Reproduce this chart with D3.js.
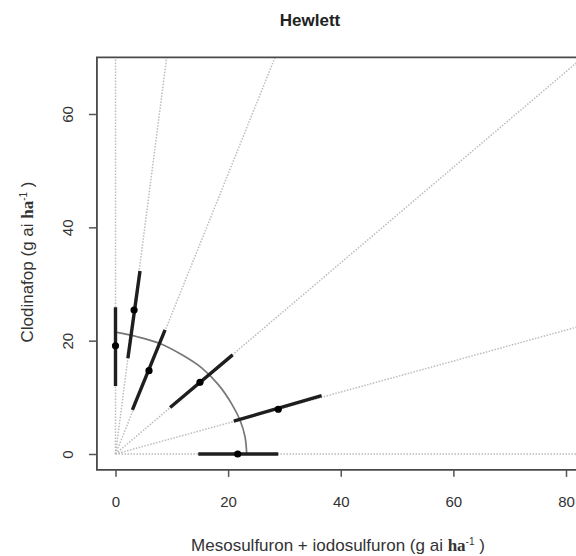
<!DOCTYPE html>
<html>
<head>
<meta charset="utf-8">
<script src="https://cdn.jsdelivr.net/npm/d3@7"></script>
<style>
  html, body { margin: 0; padding: 0; background: #fff; }
  svg { display: block; }
</style>
</head>
<body>
<svg id="chart" width="576" height="556"></svg>
<script>
// ---- data ----
const title = "Hewlett";
// estimated doses along each mixture ray (x = mesosulfuron + iodosulfuron, y = clodinafop)
const mesoEst = [0, 3.3, 5.95, 15.0, 28.9, 21.7];
const clodEst = [19.1, 25.4, 14.7, 12.65, 7.9, 0];
// lower / upper ends of the confidence bars along each ray
const mesoLo = [0, 2.2, 3.0, 9.7, 21.0, 14.7];
const clodLo = [12.0, 16.9, 7.8, 8.2, 5.8, 0];
const mesoHi = [0, 4.35, 8.8, 20.8, 36.6, 28.9];
const clodHi = [25.9, 32.3, 21.9, 17.5, 10.3, 0];
// fitted isobole
const arcMeso = [0, 3.85, 7.9, 11.8, 15.3, 18.3, 20.6, 22.1, 23.0, 23.3];
const arcClod = [21.5, 20.7, 19.5, 17.5, 15.2, 12.2, 8.9, 6.0, 3.05, 0];
// axis ticks
const xTicks = [0, 20, 40, 60, 80];
const yTicks = [0, 20, 40, 60];

// ---- layout ----
const svg = d3.select("#chart");
const x = d3.scaleLinear().domain([0, 80]).range([115.5, 566]);
const y = d3.scaleLinear().domain([0, 60]).range([454, 114]);
const xMin = -3.3, xMax = 86, yMin = -2.8, yMax = 70;
const pLeft = x(xMin), pRight = x(xMax), pTop = y(yMax), pBottom = y(yMin);
const sans = "'Liberation Sans', Arial, sans-serif";
const serif = "'Liberation Serif', 'Times New Roman', serif";
const axisCol = "#555";

svg.append("rect").attr("width", 576).attr("height", 556).attr("fill", "#fff");

svg.append("defs").append("clipPath").attr("id", "plotclip")
  .append("rect").attr("x", pLeft).attr("y", pTop)
  .attr("width", pRight - pLeft).attr("height", pBottom - pTop);

const plot = svg.append("g").attr("clip-path", "url(#plotclip)");

// rays from the origin through each estimate
const rays = mesoEst.map((m, i) => {
  const len = Math.hypot(m, clodEst[i]);
  return { dx: m / len, dy: clodEst[i] / len };
});
plot.selectAll("line.ray").data(rays).join("line")
  .attr("class", "ray")
  .attr("x1", x(0)).attr("y1", y(0))
  .attr("x2", d => x(d.dx * 200)).attr("y2", d => y(d.dy * 200))
  .attr("stroke", "#bcbcbc").attr("stroke-width", 1.5)
  .attr("stroke-dasharray", "1.5,1.5");

// isobole arc
const arcPts = arcMeso.map((m, i) => [m, arcClod[i]]);
plot.append("path")
  .attr("d", d3.line().x(d => x(d[0])).y(d => y(d[1])).curve(d3.curveCatmullRom)(arcPts))
  .attr("fill", "none").attr("stroke", "#777").attr("stroke-width", 1.7);

// confidence bars
const bars = mesoEst.map((m, i) => ({ x1: mesoLo[i], y1: clodLo[i], x2: mesoHi[i], y2: clodHi[i], xe: m, ye: clodEst[i] }));
plot.selectAll("line.bar").data(bars).join("line")
  .attr("class", "bar")
  .attr("x1", d => x(d.x1)).attr("y1", d => y(d.y1))
  .attr("x2", d => x(d.x2)).attr("y2", d => y(d.y2))
  .attr("stroke", "#1e1e1e").attr("stroke-width", 3.4);

plot.selectAll("circle.est").data(bars).join("circle")
  .attr("class", "est")
  .attr("cx", d => x(d.xe)).attr("cy", d => y(d.ye)).attr("r", 3.6)
  .attr("fill", "#000");

// frame
svg.append("path")
  .attr("d", `M${pRight},${pTop}H${pLeft}V${pBottom}H${pRight}`)
  .attr("fill", "none").attr("stroke", "#4a4a4a").attr("stroke-width", 1.8);

// x axis
const xAxis = svg.append("g").attr("transform", `translate(0,${pBottom})`)
  .call(d3.axisBottom(x).tickValues(xTicks).tickSize(7).tickPadding(19).tickFormat(d3.format("d")));
xAxis.select(".domain").remove();
xAxis.selectAll("line").attr("stroke", axisCol).attr("stroke-width", 1.5);
xAxis.selectAll("text").attr("font-family", sans).attr("font-size", 15).attr("fill", "#333");

// y axis (labels parallel to axis, as in R)
const yAxis = svg.append("g").attr("transform", `translate(${pLeft},0)`)
  .call(d3.axisLeft(y).tickValues(yTicks).tickSize(8).tickFormat(""));
yAxis.select(".domain").remove();
yAxis.selectAll("line").attr("stroke", axisCol).attr("stroke-width", 1.5);
yAxis.selectAll("g.tick").append("text")
  .attr("transform", "translate(-24,0) rotate(-90)")
  .attr("text-anchor", "middle").attr("dy", "0")
  .attr("font-family", sans).attr("font-size", 15).attr("fill", "#333")
  .text(d => d3.format("d")(d));

// title
svg.append("text").attr("x", 310).attr("y", 26).attr("text-anchor", "middle")
  .attr("font-family", sans).attr("font-weight", "bold").attr("font-size", 17)
  .attr("fill", "#222").text(title);

// axis titles
function unitLabel(sel, prefix) {
  sel.append("tspan").text(prefix + "(g ai ");
  sel.append("tspan").attr("font-family", serif).attr("font-weight", "bold").text("ha");
  sel.append("tspan").attr("font-size", 10).attr("dy", -6).text("-1");
  sel.append("tspan").attr("dy", 6).text(" )");
}
const xl = svg.append("text").attr("x", 338).attr("y", 551).attr("text-anchor", "middle")
  .attr("font-family", sans).attr("font-size", 17).attr("fill", "#333");
unitLabel(xl, "Mesosulfuron + iodosulfuron ");

const yl = svg.append("text").attr("transform", "translate(33,262) rotate(-90)")
  .attr("text-anchor", "middle")
  .attr("font-family", sans).attr("font-size", 17).attr("fill", "#333");
unitLabel(yl, "Clodinafop ");
</script>
</body>
</html>
